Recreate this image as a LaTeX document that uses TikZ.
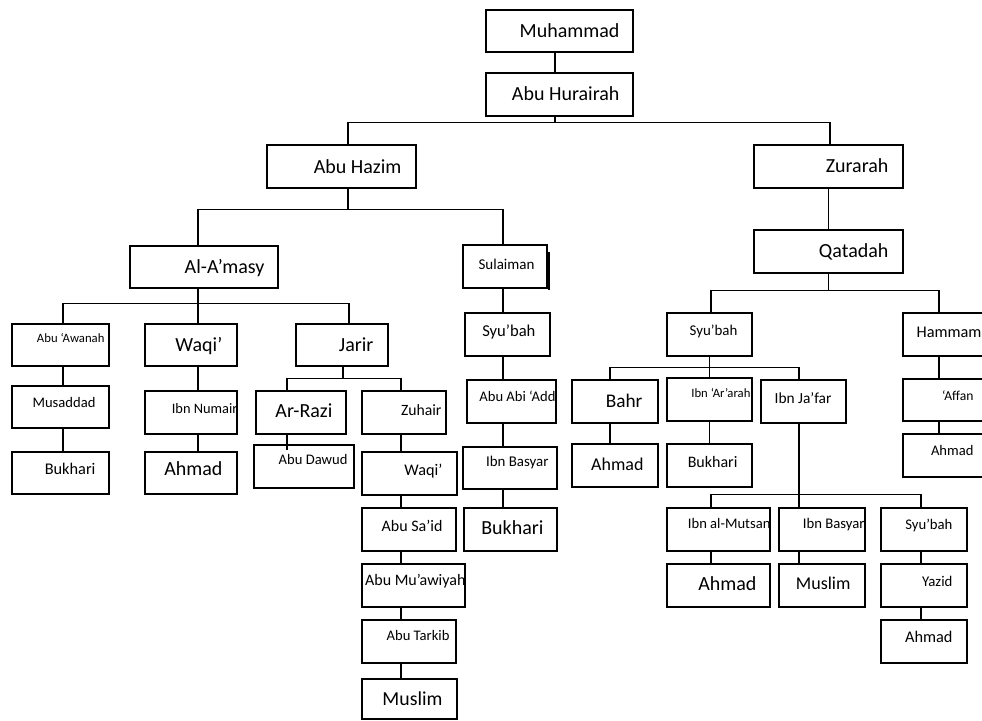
\documentclass[tikz,border=0pt]{standalone}
\usepackage{fontspec}
\setmainfont{Carlito}
\usetikzlibrary{positioning}
\tikzset{
  rawi/.style 2 args={draw=black,line width=1.3pt,fill=white,
    minimum width=#1pt,minimum height=#2pt,inner sep=0pt},
  nm/.style n args={3}{anchor=base east,inner sep=0pt,
    font=\fontsize{#1}{#1}\selectfont,xshift=-#2pt,yshift=#3pt},
  sanad/.style={line width=1.3pt,draw=black},
}
\begin{document}
\begin{tikzpicture}[x=1pt,y=-1pt]
  \useasboundingbox (0,0) rectangle (982,720);
  % top of the chain
  \node[rawi={147}{42},label={[nm={20}{14}{-6.3}]east:Muhammad}] (muhammad) at (559.5,31) {};
  \node[rawi={147}{43},label={[nm={20}{14}{-5.5}]east:Abu Hurairah}] (hurairah) at (559.5,94.5) {};
  \node[rawi={149}{43},label={[nm={20}{15}{-6.5}]east:Abu Hazim}] (hazim) at (341.5,166.5) {};
  \node[rawi={149}{43},label={[nm={20}{15}{-6}]east:Zurarah}] (zurarah) at (828.5,166.5) {};
  \node[rawi={149}{43},label={[nm={20}{15}{-5.5}]east:Qatadah}] (qatadah) at (828.5,251.5) {};
  % Abu Hazim side
  \node[rawi={148}{42},label={[nm={20}{14}{-6}]east:Al-A’masy}] (amasy) at (204,267) {};
  \node[rawi={84}{43},label={[nm={15}{13}{-2.5}]east:Sulaiman}] (sulaiman) at (505,266.5) {};
  \node[rawi={97}{42},label={[nm={12.7}{5}{2.3}]east:Abu ‘Awanah}] (awanah) at (60.5,345) {};
  \node[rawi={92}{42},label={[nm={20}{15}{-6.7}]east:Waqi’}] (waqiA) at (191,345) {};
  \node[rawi={92}{42},label={[nm={20}{15}{-6.7}]east:Jarir}] (jarir) at (342,345) {};
  \node[rawi={97}{42},label={[nm={14.6}{14}{-0.3}]east:Musaddad}] (musaddad) at (60.5,407) {};
  \node[rawi={92}{43},label={[nm={14.4}{0}{-0.8}]east:Ibn Numair}] (numair) at (191,412.5) {};
  \node[rawi={97}{42},label={[nm={16.3}{14}{-1}]east:Bukhari}] (bukhariA) at (60.5,473) {};
  \node[rawi={92}{42},label={[nm={20}{15}{-2}]east:Ahmad}] (ahmadA) at (191,473) {};
  \node[rawi={90}{43},label={[nm={20}{14}{-5.2}]east:Ar-Razi}] (razi) at (301,412.5) {};
  \node[rawi={100}{43},label={[nm={14.6}{7}{2.5}]east:Abu Dawud}] (dawud) at (304,466.5) {};
  \node[rawi={84}{43},label={[nm={15.7}{5}{-3.2}]east:Zuhair}] (zuhair) at (404,412.5) {};
  \node[rawi={95}{43},label={[nm={16.2}{15}{-1.5}]east:Waqi’}] (waqiB) at (409.5,473.5) {};
  \node[rawi={94}{43},label={[nm={16}{14}{-2.2}]east:Abu Sa’id}] (said) at (409,529.5) {};
  \node[rawi={103}{43},label={[nm={16}{0}{-0.2}]east:Abu Mu’awiyah}] (muawiyah) at (413.5,585.5) {};
  \node[rawi={94}{43},label={[nm={14.6}{7}{0.8}]east:Abu Tarkib}] (tarkib) at (409,641.5) {};
  \node[rawi={95}{40},label={[nm={19.8}{15}{-6}]east:Muslim}] (muslimA) at (409.5,699) {};
  \node[rawi={85}{43},label={[nm={16.6}{15}{-2.2}]east:Syu’bah}] (syubahA) at (507.5,334.5) {};
  \node[rawi={89}{43},label={[nm={14.6}{1}{0.5}]east:Abu Abi ‘Add}] (abiadd) at (511.5,401.5) {};
  \node[rawi={94}{42},label={[nm={14.9}{9}{1.3}]east:Ibn Basyar}] (basyarA) at (510,468) {};
  \node[rawi={93}{43},label={[nm={20}{14}{-4.5}]east:Bukhari}] (bukhariB) at (510.5,529.5) {};
  % Zurarah side
  \node[rawi={85}{43},label={[nm={14.9}{15}{-0.5}]east:Syu’bah}] (syubahB) at (709.5,334.5) {};
  \node[rawi={97}{43},label={[nm={16.3}{19}{-2.8}]east:Hammam}] (hammam) at (951.5,334.5) {};
  \node[rawi={86}{43},label={[nm={19.3}{16}{-5.8}]east:Bahr}] (bahr) at (615,401.5) {};
  \node[rawi={85}{43},label={[nm={12.7}{2}{2.2}]east:Ibn ‘Ar’arah}] (ararah) at (709.5,399.5) {};
  \node[rawi={85}{43},label={[nm={15.4}{15}{-1.8}]east:Ibn Ja’far}] (jafar) at (803.5,401.5) {};
  \node[rawi={97}{42},label={[nm={13.6}{27}{0}]east:‘Affan}] (affan) at (951.5,400) {};
  \node[rawi={97}{43},label={[nm={14.6}{27}{0.5}]east:Ahmad}] (ahmadB) at (951.5,455.5) {};
  \node[rawi={86}{43},label={[nm={18}{15}{-4.5}]east:Ahmad}] (ahmadC) at (615,465.5) {};
  \node[rawi={85}{43},label={[nm={16}{15}{-2.2}]east:Bukhari}] (bukhariC) at (709.5,465.5) {};
  \node[rawi={103}{43},label={[nm={14.6}{0}{1.2}]east:Ibn al-Mutsan}] (mutsan) at (718.5,529.5) {};
  \node[rawi={86}{43},label={[nm={14.7}{1}{1.2}]east:Ibn Basyar}] (basyarB) at (822,529.5) {};
  \node[rawi={86}{43},label={[nm={14.7}{15}{0.2}]east:Syu’bah}] (syubahC) at (924,529.5) {};
  \node[rawi={103}{43},label={[nm={20}{14}{-4.5}]east:Ahmad}] (ahmadD) at (718.5,585.5) {};
  \node[rawi={86}{43},label={[nm={18}{15}{-3.5}]east:Muslim}] (muslimB) at (822,585.5) {};
  \node[rawi={86}{43},label={[nm={14.8}{15}{-0.5}]east:Yazid}] (yazid) at (924,585.5) {};
  \node[rawi={86}{43},label={[nm={16.3}{15}{-1.2}]east:Ahmad}] (ahmadE) at (924,641.5) {};
  \draw[line width=1.6pt] ([xshift=1.5pt,yshift=-8pt]sulaiman.north east) -- ([xshift=1.5pt,yshift=-1pt]sulaiman.south east);

  % connectors
  \draw[sanad] ([xshift=-4.5pt]muhammad.south) -- ([xshift=-4.5pt]hurairah.north);
  \coordinate (jHur) at ([xshift=-4.5pt,yshift=-6pt]hurairah.south);
  \draw[sanad] ([xshift=-4.5pt]hurairah.south) -- (jHur);
  \draw[sanad] ([xshift=6.5pt]hazim.north) |- (jHur) -| ([xshift=1.5pt]zurarah.north);
  \draw[sanad] (zurarah) -- (qatadah);

  \coordinate (jHaz) at ([xshift=6.5pt,yshift=-21pt]hazim.south);
  \draw[sanad] ([xshift=6.5pt]hazim.south) -- (jHaz);
  \draw[sanad] ([xshift=-6pt]amasy.north) |- (jHaz) -| ([xshift=-2pt]sulaiman.north);

  \coordinate (jAma) at ([xshift=-6pt,yshift=-15pt]amasy.south);
  \draw[sanad] ([xshift=-6pt]amasy.south) -- (jAma);
  \draw[sanad] ([xshift=2.5pt]awanah.north) |- (jAma) -| ([xshift=7pt]jarir.north);
  \draw[sanad] ([xshift=7pt]waqiA.north) -- (jAma);
  \draw[sanad] ([xshift=2.5pt]awanah.south) -- ([xshift=2.5pt]musaddad.north);
  \draw[sanad] ([xshift=2.5pt]musaddad.south) -- ([xshift=2.5pt]bukhariA.north);
  \draw[sanad] ([xshift=7pt]waqiA.south) -- ([xshift=7pt]numair.north);
  \draw[sanad] ([xshift=7pt]numair.south) -- ([xshift=7pt]ahmadA.north);

  \coordinate (jJar) at ([xshift=1pt,yshift=-12pt]jarir.south);
  \draw[sanad] ([xshift=1pt]jarir.south) -- (jJar);
  \draw[sanad] ([xshift=-14pt]razi.north) |- (jJar) -| ([xshift=-3pt]zuhair.north);
  \draw[sanad] ([xshift=-14pt]razi.south) -- ([xshift=-17pt,yshift=-6pt]dawud.north);
  \draw[sanad] ([xshift=-3pt]zuhair.south) -- ([xshift=-8.5pt]waqiB.north);
  \draw[sanad] ([xshift=-8.5pt]waqiB.south) -- ([xshift=-8pt]said.north);
  \draw[sanad] ([xshift=-8pt]said.south) -- ([xshift=-12.5pt]muawiyah.north);
  \draw[sanad] ([xshift=-12.5pt]muawiyah.south) -- ([xshift=-8pt]tarkib.north);
  \draw[sanad] ([xshift=-8pt]tarkib.south) -- ([xshift=-8.5pt]muslimA.north);

  \draw[sanad] ([xshift=-2pt]sulaiman.south) -- ([xshift=-4.5pt]syubahA.north);
  \draw[sanad] ([xshift=-4.5pt]syubahA.south) -- ([xshift=-8.5pt]abiadd.north);
  \draw[sanad] ([xshift=-8.5pt]abiadd.south) -- ([xshift=-7pt]basyarA.north);
  \draw[sanad] ([xshift=-7pt]basyarA.south) -- ([xshift=-7.5pt]bukhariB.north);

  \coordinate (jQat) at ([yshift=-17pt]qatadah.south);
  \draw[sanad] (qatadah.south) -- (jQat);
  \draw[sanad] ([xshift=1.5pt]syubahB.north) |- (jQat) -| ([xshift=-12.5pt]hammam.north);
  \draw[sanad] ([xshift=-12.5pt]hammam.south) -- ([xshift=-12.5pt]affan.north);
  \draw[sanad] ([xshift=-12.5pt]affan.south) -- ([xshift=-12.5pt]ahmadB.north);

  \coordinate (jSyu) at ([yshift=-11pt]syubahB.south);
  \draw[sanad] (syubahB.south) -- (jSyu);
  \draw[sanad] ([xshift=-5pt]bahr.north) |- (jSyu) -| ([xshift=-4.5pt]jafar.north);
  \draw[sanad] (ararah.north) -- (jSyu);
  \draw[sanad] ([xshift=-5pt]bahr.south) -- ([xshift=-5pt]ahmadC.north);
  \draw[sanad] (ararah.south) -- (bukhariC.north);

  \coordinate (jJaf) at ([xshift=-4.5pt,yshift=-71pt]jafar.south);
  \draw[sanad] ([xshift=-4.5pt]jafar.south) -- (jJaf);
  \draw[sanad] ([xshift=-7.5pt]mutsan.north) |- (jJaf) -| ([xshift=-3pt]syubahC.north);
  \draw[sanad] ([xshift=-23pt]basyarB.north) -- (jJaf);
  \draw[sanad] ([xshift=-7.5pt]mutsan.south) -- ([xshift=-7.5pt]ahmadD.north);
  \draw[sanad] ([xshift=-23pt]basyarB.south) -- ([xshift=-23pt]muslimB.north);
  \draw[sanad] ([xshift=-3pt]syubahC.south) -- ([xshift=-3pt]yazid.north);
  \draw[sanad] ([xshift=-3pt]yazid.south) -- ([xshift=-3pt]ahmadE.north);
\end{tikzpicture}
\end{document}
